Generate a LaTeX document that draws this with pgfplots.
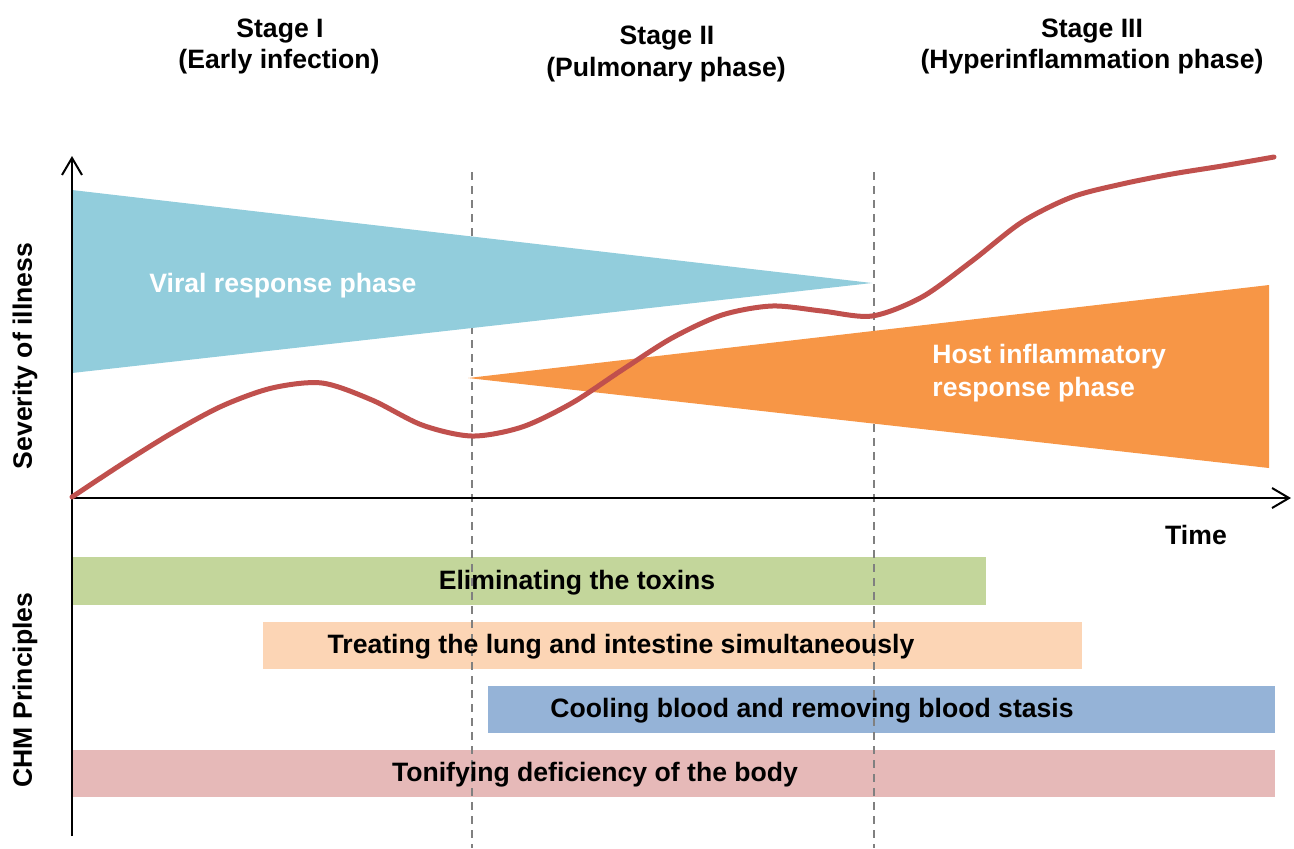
\documentclass[border=0pt]{standalone}
\usepackage{fontspec}
\setmainfont{Liberation Sans}
\usepackage{pgfplots}
\pgfplotsset{compat=1.18}
\usetikzlibrary{arrows.meta}
\definecolor{cBlueTri}{HTML}{92CDDC}
\definecolor{cOrangeTri}{HTML}{F79646}
\definecolor{cRed}{HTML}{C0504D}
\definecolor{cGreen}{HTML}{C3D69B}
\definecolor{cPeach}{HTML}{FCD5B5}
\definecolor{cBlueBar}{HTML}{95B3D7}
\definecolor{cPink}{HTML}{E6B9B8}
\definecolor{cDash}{HTML}{808080}
\tikzset{lbl/.style={font=\fontsize{13.3pt}{16.5pt}\selectfont\bfseries}}
\begin{document}
\begin{tikzpicture}
\begin{axis}[
  scale only axis, width=647pt, height=424pt,
  xmin=0, xmax=1294, ymin=0, ymax=848, y dir=reverse,
  hide axis, clip=false,
]
\coordinate (c1) at (rel axis cs:0,0);
\coordinate (c2) at (rel axis cs:1,1);
% bars
\addplot[fill=cGreen, draw=none] coordinates {(72,557) (986,557) (986,605) (72,605)} -- cycle;
\addplot[fill=cPeach, draw=none] coordinates {(263,622) (1082,622) (1082,669) (263,669)} -- cycle;
\addplot[fill=cBlueBar, draw=none] coordinates {(488,686) (1275,686) (1275,733) (488,733)} -- cycle;
\addplot[fill=cPink, draw=none] coordinates {(72,750) (1275,750) (1275,797) (72,797)} -- cycle;
% dashed stage separators
\addplot[cDash, line width=1pt, dash pattern=on 4pt off 3pt] coordinates {(472,172) (472,848)};
\addplot[cDash, line width=1pt, dash pattern=on 4pt off 3pt] coordinates {(874,172) (874,848)};
% triangles
\addplot[fill=cBlueTri, draw=none] coordinates {(72,190) (872,283) (72,373)} -- cycle;
\addplot[fill=cOrangeTri, draw=none] coordinates {(468,378) (1269,285) (1269,468)} -- cycle;
% axes
\addplot[black, line width=1pt, -{Straight Barb[length=8.5pt,width=10pt,line width=1pt]}] coordinates {(72,836) (72,156)};
\addplot[black, line width=1pt, -{Straight Barb[length=8.5pt,width=10pt,line width=1pt]}] coordinates {(72,498) (1291,498)};
% severity curve
\addplot[cRed, line width=2.5pt, smooth, line cap=round] coordinates {
(72,497) (122,464) (172,433) (222,406) (272,388) (322,383) (372,400) (422,425)
(472,436) (522,427) (572,403) (622,370) (672,338) (722,315) (772,306) (822,311)
(872,316) (922,297) (972,261) (1022,222) (1072,197) (1122,184) (1172,174)
(1222,166) (1274,157)};
% texts
\node[lbl, anchor=base] at (axis cs:280,37) {Stage I};
\node[lbl, anchor=base] at (axis cs:279,68) {(Early infection)};
\node[lbl, anchor=base] at (axis cs:667,44) {Stage II};
\node[lbl, anchor=base] at (axis cs:666,76) {(Pulmonary phase)};
\node[lbl, anchor=base] at (axis cs:1092,37) {Stage III};
\node[lbl, anchor=base] at (axis cs:1092,68) {(Hyperinflammation phase)};
\node[lbl, anchor=base west, white, inner sep=0pt] at (axis cs:149,292) {Viral response phase};
\node[lbl, anchor=base west, white, inner sep=0pt] at (axis cs:932,363) {Host inflammatory};
\node[lbl, anchor=base west, white, inner sep=0pt] at (axis cs:932,396) {response phase};
\node[lbl, rotate=90] at (axis cs:25,356) {Severity of illness};
\node[lbl, rotate=90] at (axis cs:25,690) {CHM Principles};
\node[lbl] at (axis cs:1196,535) {Time};
\node[lbl, anchor=base] at (axis cs:577,589) {Eliminating the toxins};
\node[lbl, anchor=base] at (axis cs:621,653) {Treating the lung and intestine simultaneously};
\node[lbl, anchor=base] at (axis cs:812,717) {Cooling blood and removing blood stasis};
\node[lbl, anchor=base] at (axis cs:595,781) {Tonifying deficiency of the body};
\end{axis}
\pgfresetboundingbox
\path (c1) rectangle (c2);
\end{tikzpicture}
\end{document}
